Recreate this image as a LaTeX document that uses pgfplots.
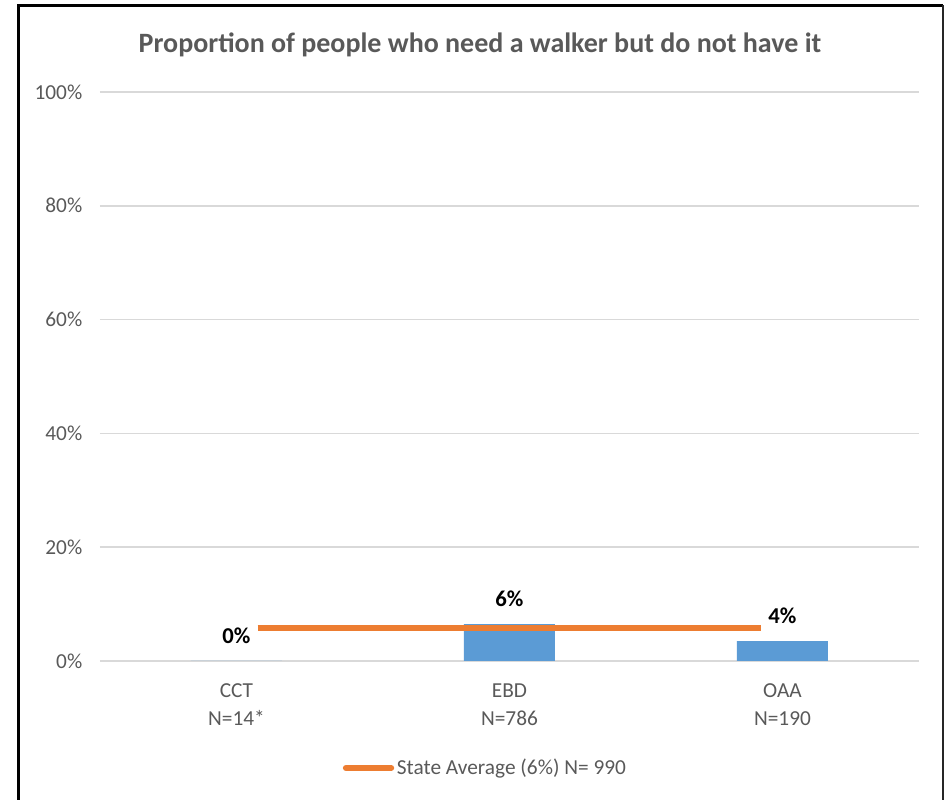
\documentclass[border=0pt]{standalone}
\usepackage{pgfplots}
\pgfplotsset{compat=1.18}
\usepackage{fontspec}
\setmainfont{Carlito}
\definecolor{barblue}{HTML}{5B9BD5}
\definecolor{lineorange}{HTML}{ED7D31}
\definecolor{txtgray}{HTML}{595959}
\definecolor{gridgray}{HTML}{D9D9D9}
\begin{document}
\begin{tikzpicture}[x=0.75pt,y=0.75pt]
\useasboundingbox (0,0) rectangle (951,800);
\draw[black, line width=2.25pt] (18,0) -- (18,794.5) -- (943,794.5);
\draw[black!85, line width=1.5pt] (943,794.5) -- (943,0);
\node[font=\fontsize{21}{25}\selectfont\bfseries, text=txtgray] at (480,755) {Proportion of people who need a walker but do not have it};
\begin{axis}[
  at={(75pt,104.25pt)}, anchor=south west,
  scale only axis, width=614.25pt, height=426.75pt,
  xmin=-0.5, xmax=2.5, ymin=0, ymax=100,
  clip=false,
  xtick={0,1,2},
  xticklabels={{CCT\\N=14*},{EBD\\N=786},{OAA\\N=190}},
  xticklabel style={align=center, font=\fontsize{16}{21}\selectfont, text=txtgray, yshift=-13.5pt},
  ytick={0,20,40,60,80,100},
  yticklabel={\pgfmathprintnumber{\tick}\%},
  yticklabel style={font=\fontsize{16}{19}\selectfont, text=txtgray, xshift=-9.75pt},
  /pgf/number format/assume math mode=true,
  ymajorgrids, grid style={gridgray, line width=1.1pt},
  axis x line*=bottom, x axis line style={gridgray, line width=1.1pt, -},
  axis y line*=left, y axis line style={draw=none},
  major tick length=0pt,
  legend style={at={(0.471,-0.188)}, anchor=center, draw=none, fill=none,
    font=\fontsize{16}{19}\selectfont, text=txtgray},
  legend image code/.code={\draw[#1, line cap=round] (0pt,0pt) -- (34pt,0pt);},
]
\addplot[ybar, bar width=68.25pt, fill=barblue, draw=none, forget plot,
  point meta=explicit,
  nodes near coords={\pgfmathprintnumber[fixed,precision=0]{\pgfplotspointmeta}\%},
  nodes near coords style={font=\fontsize{17}{20}\selectfont\bfseries, text=black, anchor=center, yshift=18.75pt}]
  table[meta=lab] {
x y lab
0 0 0
1 6.5 6
2 3.5 4
};
\addplot[lineorange, line width=4.5pt] coordinates {(0.077,5.8) (1.92,5.8)};
\addlegendentry{State Average (6\%) N= 990}
\end{axis}
\end{tikzpicture}
\end{document}
